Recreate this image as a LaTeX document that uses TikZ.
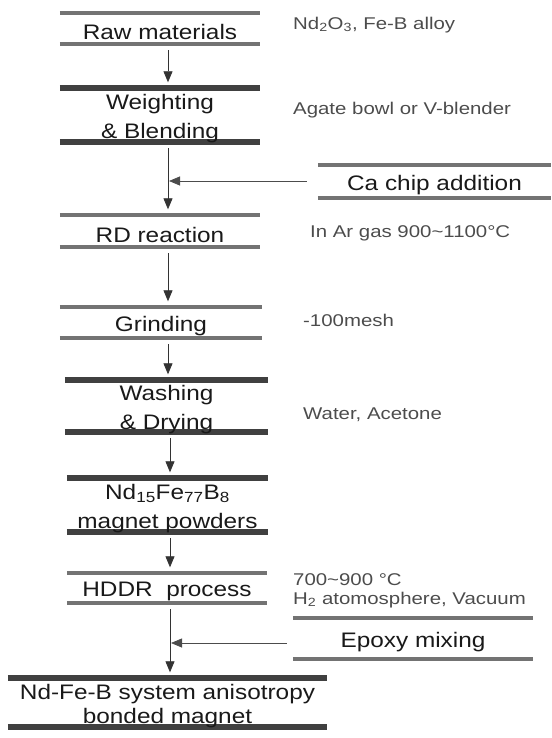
\documentclass[tikz,border=0pt]{standalone}
\usepackage{fontspec}
\setmainfont{Liberation Sans}
\newfontfamily\mainf[FakeStretch=1.16]{Liberation Sans}
\newfontfamily\notef[FakeStretch=1.2]{Liberation Sans}
\usetikzlibrary{arrows.meta,backgrounds}
\begin{document}
\begin{tikzpicture}[x=1pt,y=-1pt,
  bar/.style={line width=4.5pt, draw=black!55},
  darkbar/.style={line width=6pt, draw=black!75},
  stepbox/.style={inner sep=0pt, align=center, text=black!90,
    font=\mainf\fontsize{21}{29}\selectfont},
  flow/.style={draw=black!80, line width=0.8pt, -{Triangle[length=11pt,width=9pt]},
    shorten <=2.5pt, shorten >=9pt},
  side/.style={draw=black!70, line width=0.8pt, -{Triangle[length=11pt,width=9pt]}},
  note/.style={anchor=west, inner sep=0pt, text=black!70,
    font=\notef\fontsize{17}{21}\selectfont}
]
\useasboundingbox (0,0) rectangle (551,738);
\coordinate (sp1) at (168,0);
\coordinate (sp2) at (170,0);

% main steps (node centre 3.5pt below the middle of its two bars)
\node[stepbox, minimum width=200pt, minimum height=31pt] (raw) at (160,32) {Raw materials};
\node[stepbox, minimum width=200pt, minimum height=54pt] (weight) at (160,118.5) {Weighting\\\& Blending};
\node[stepbox, minimum width=233pt, minimum height=33pt] (ca) at (434.5,185) {Ca chip addition};
\node[stepbox, minimum width=200pt, minimum height=32pt] (rd) at (160,234.5) {RD reaction};
\node[stepbox, minimum width=202pt, minimum height=31pt] (grind) at (161,326) {Grinding};
\node[stepbox, minimum width=203pt, minimum height=52pt] (wash) at (166.5,409.5) {Washing\\\& Drying};
\node[stepbox, minimum width=201pt, minimum height=54pt] (nd) at (167.5,508.5)
  {Nd\textsubscript{15}Fe\textsubscript{77}B\textsubscript{8}\\magnet powders};
\node[stepbox, minimum width=200pt, minimum height=30pt] (hddr) at (167,591.5) {HDDR\ \ process};
\node[stepbox, minimum width=240pt, minimum height=41pt] (epoxy) at (413,642) {Epoxy mixing};
\node[stepbox, minimum width=319pt, minimum height=49pt,
  font=\mainf\fontsize{21}{24}\selectfont] (final) at (167.5,706)
  {Nd-Fe-B system anisotropy\\bonded magnet};

% bars above and below each step, behind the text
\begin{pgfonlayer}{background}
\foreach \n/\s in {raw/bar, weight/darkbar, ca/bar, rd/bar, grind/bar, wash/darkbar,
                   nd/darkbar, hddr/bar, epoxy/bar, final/darkbar} {
  \draw[\s] ([yshift=3.5pt]\n.north west) -- ([yshift=3.5pt]\n.north east);
  \draw[\s] ([yshift=3.5pt]\n.south west) -- ([yshift=3.5pt]\n.south east);
}
\end{pgfonlayer}

% connectors
\draw[flow] (raw.south -| sp1) -- (weight.north -| sp1);
\draw[flow] (weight.south -| sp1) -- (rd.north -| sp1);
\draw[flow] (rd.south -| sp1) -- (grind.north -| sp1);
\draw[flow] (grind.south -| sp1) -- (wash.north -| sp1);
\draw[flow] (wash.south -| sp2) -- (nd.north -| sp2);
\draw[flow] (nd.south -| sp2) -- (hddr.north -| sp2);
\draw[flow] (hddr.south -| sp2) -- (final.north -| sp2);
\draw[side, shorten <=11pt, shorten >=1pt] ([yshift=4pt]ca.west) -- ([yshift=4pt]ca.west -| sp1);
\draw[side, shorten <=6pt, shorten >=1pt] ([yshift=-1pt]epoxy.west) -- ([yshift=-1pt]epoxy.west -| sp2);

% annotations
\node[note] (n1) at (293,25) {Nd\textsubscript{2}O\textsubscript{3}, Fe-B alloy};
\node[note] (n2) at (293,110) {Agate bowl or V-blender};
\node[note] (n3) at (310,233) {In Ar gas 900\textasciitilde1100°C};
\node[note] (n4) at (303,320) {-100mesh};
\node[note] (n5) at (303,415) {Water, Acetone};
\node[note] (n6) at (293,580) {700\textasciitilde900 °C};
\node[note] (n7) at (293,600) {H\textsubscript{2} atomosphere, Vacuum};
\end{tikzpicture}
\end{document}
